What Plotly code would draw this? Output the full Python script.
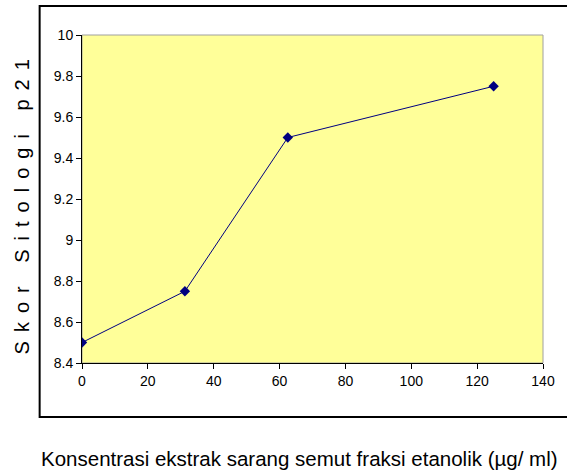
import plotly.graph_objects as go

concentration = [0, 31.25, 62.5, 125]
score = [8.5, 8.75, 9.5, 9.75]
x_ticks = [0, 20, 40, 60, 80, 100, 120, 140]
y_ticks = [8.4, 8.6, 8.8, 9.0, 9.2, 9.4, 9.6, 9.8, 10.0]
y_tick_labels = ["8.4", "8.6", "8.8", "9", "9.2", "9.4", "9.6", "9.8", "10"]

W, H = 567, 472
ml, mr, mt, mb = 82, 17, 35, 109
pw, ph = W - ml - mr, H - mt - mb

def px_x(p):
    return (p - ml) / pw

def px_y(p):
    return (H - mb - p) / ph

fig = go.Figure()
fig.add_trace(go.Scatter(
    x=concentration, y=score, mode="lines+markers",
    line=dict(color="#000080", width=1),
    marker=dict(symbol="diamond", size=8, color="#000080"),
    showlegend=False,
))

font_ticks = dict(family="Liberation Sans Narrow, Liberation Sans, Arial", size=14, color="black")

fig.update_layout(
    width=W, height=H,
    margin=dict(l=ml, r=mr, t=mt, b=mb),
    paper_bgcolor="white",
    plot_bgcolor="#FFFF99",
    xaxis=dict(range=[0, 140], tickvals=x_ticks, ticktext=[str(v) for v in x_ticks],
               ticks="outside", ticklen=5, tickcolor="black", showgrid=False, zeroline=False,
               showline=True, linecolor="black", linewidth=1, tickfont=font_ticks),
    yaxis=dict(range=[8.4, 10], tickvals=y_ticks, ticktext=y_tick_labels,
               ticks="outside", ticklen=5, tickcolor="black", showgrid=False, zeroline=False,
               showline=True, linecolor="black", linewidth=1, tickfont=font_ticks),
    shapes=[
        dict(type="rect", xref="paper", yref="paper", x0=0, x1=1, y0=0, y1=1,
             line=dict(color="#A0A0A0", width=1), layer="below"),
        dict(type="rect", xref="paper", yref="paper",
             x0=px_x(39), x1=px_x(600), y0=px_y(417), y1=px_y(6),
             line=dict(color="black", width=2), layer="above"),
    ],
    annotations=[
        dict(text="Skor Sitologi p21", xref="paper", yref="paper",
             x=px_x(21), y=px_y(202), textangle=-90, showarrow=False,
             xanchor="center", yanchor="middle",
             font=dict(family="Liberation Sans, Arial", size=20, color="black")),
        dict(text="Konsentrasi ekstrak sarang semut fraksi etanolik (µg/ ml)",
             xref="paper", yref="paper", x=px_x(303), y=px_y(458), showarrow=False,
             xanchor="center", yanchor="middle",
             font=dict(family="Liberation Sans, Arial", size=20.5, color="black")),
    ],
)

post = """
document.body.style.margin='0px';
document.body.style.overflow='hidden';
var st=document.createElement('style');
st.textContent='.annotation-text[data-unformatted^="Skor"]{letter-spacing:9px;}';
document.head.appendChild(st);
"""

fig.write_html("out.html", config={"displayModeBar": False, "responsive": False},
               post_script=post)
